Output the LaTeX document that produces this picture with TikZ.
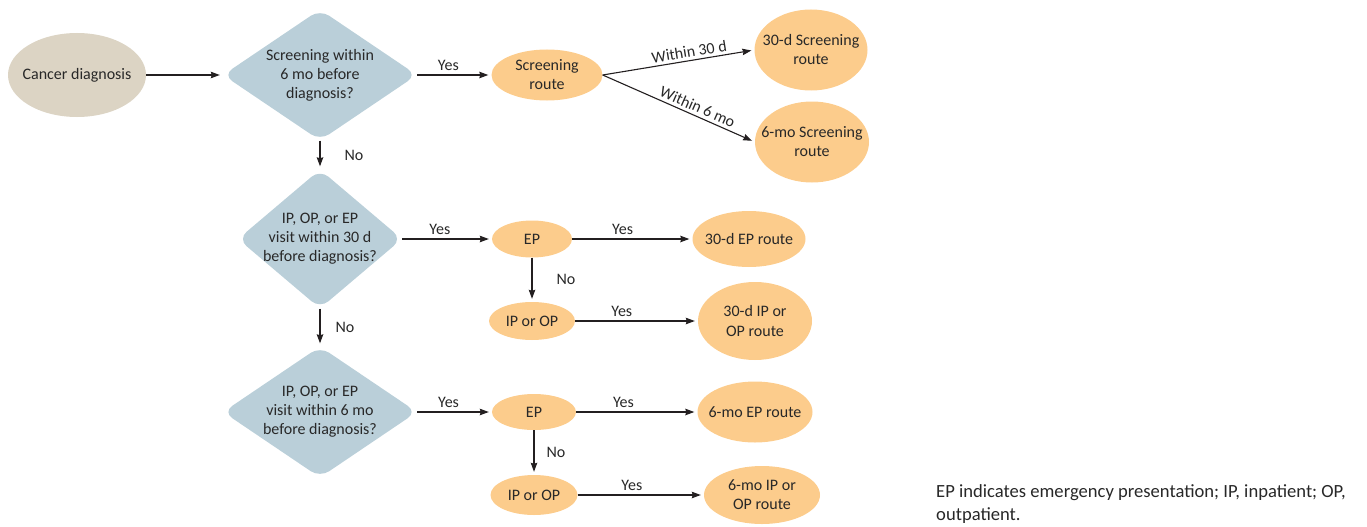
\documentclass[tikz,border=0pt]{standalone}
\usepackage{fontspec}
\setmainfont{Carlito}
\usetikzlibrary{shapes.geometric,arrows.meta}
\definecolor{beige}{RGB}{220,212,196}
\definecolor{bluegray}{RGB}{186,207,217}
\definecolor{orng}{RGB}{252,204,140}
\definecolor{ink}{RGB}{35,31,32}
\definecolor{txt}{RGB}{40,40,40}
\begin{document}
\begin{tikzpicture}[x=1pt,y=-1pt,
  font=\fontsize{16}{19}\selectfont, text=txt,
  ell/.style 2 args={ellipse, fill=orng, minimum width=#1pt, minimum height=#2pt, inner sep=-14pt, align=center},
  startell/.style 2 args={ellipse, fill=beige, minimum width=#1pt, minimum height=#2pt, inner sep=-14pt, align=center},
  dia/.style 2 args={diamond, fill=bluegray, rounded corners=11pt, minimum width=#1pt, minimum height=#2pt, inner sep=-22pt, align=center},
  arr/.style={draw=ink, line width=1.1pt, -{Stealth[length=9pt,width=6.5pt,inset=1pt]}, shorten >=3pt},
  yes/.style={above, inner sep=4pt, pos=0.42},
  nolab/.style={right, inner sep=0pt, xshift=#1pt},
]
\useasboundingbox (0,0) rectangle (1367,527);
% start
\node[startell={138}{84}] (cd) at (77,75) {Cancer diagnosis};
% diamonds
\node[dia={194}{131}] (d1) at (320,75) {Screening within\\6 mo before\\diagnosis?};
\node[dia={164}{139}] (d2) at (320,239) {IP, OP, or EP\\visit within 30 d\\before diagnosis?};
\node[dia={194}{131}] (d3) at (320,412) {IP, OP, or EP\\visit within 6 mo\\before diagnosis?};
% screening branch
\node[ell={111}{51}] (sr) at (547,75) {Screening\\route};
\node[ell={113}{81}] (r30s) at (811,50) {30-d Screening\\route};
\node[ell={114}{81}] (r6s) at (812,142) {6-mo Screening\\route};
% 30 d branch
\node[ell={80}{37}] (ep1) at (532,239) {EP};
\node[ell={113}{56}] (r30ep) at (749,239) {30-d EP route};
\node[ell={86}{38}] (ipop1) at (532,321) {IP or OP};
\node[ell={114}{78}] (r30ip) at (755,321) {30-d IP or\\OP route};
% 6 mo branch
\node[ell={84}{36}] (ep2) at (534,412) {EP};
\node[ell={115}{61}] (r6ep) at (755,412) {6-mo EP route};
\node[ell={87}{40}] (ipop2) at (534,495) {IP or OP};
\node[ell={116}{58}] (r6ip) at (762,495) {6-mo IP or\\OP route};
% footnote
\node[anchor=north west, align=left, inner sep=0pt, font=\fontsize{18.6}{23}\selectfont] (note) at (936,484)
  {EP indicates emergency presentation; IP, inpatient; OP,\\outpatient.};
% connectors
\draw[arr] (cd) -- (d1);
\draw[arr] (d1.east) -- node[yes]{Yes} (sr.west);
\draw[arr] (sr.east) -- node[sloped, above, pos=0.58, inner sep=3pt]{Within 30 d} (r30s.west);
\draw[arr] (sr.east) -- node[sloped, above, pos=0.6, inner sep=3pt]{Within 6 mo} (r6s.west);
\draw[arr] (d1.south) -- node[nolab=24]{No} (d2.north);
\draw[arr] (d2.east) -- node[yes]{Yes} (ep1.west);
\draw[arr] (ep1.east) -- node[yes]{Yes} (r30ep.west);
\draw[arr] (ep1.south) -- node[nolab=24]{No} (ipop1.north);
\draw[arr] (ipop1.east) -- node[yes, pos=0.38]{Yes} (r30ip.west);
\draw[arr] (d2.south) -- node[nolab=15]{No} (d3.north);
\draw[arr] (d3.east) -- node[yes]{Yes} (ep2.west);
\draw[arr] (ep2.east) -- node[yes, pos=0.39]{Yes} (r6ep.west);
\draw[arr] (ep2.south) -- node[nolab=12]{No} (ipop2.north);
\draw[arr] (ipop2.east) -- node[yes, pos=0.43]{Yes} (r6ip.west);
\end{tikzpicture}
\end{document}
